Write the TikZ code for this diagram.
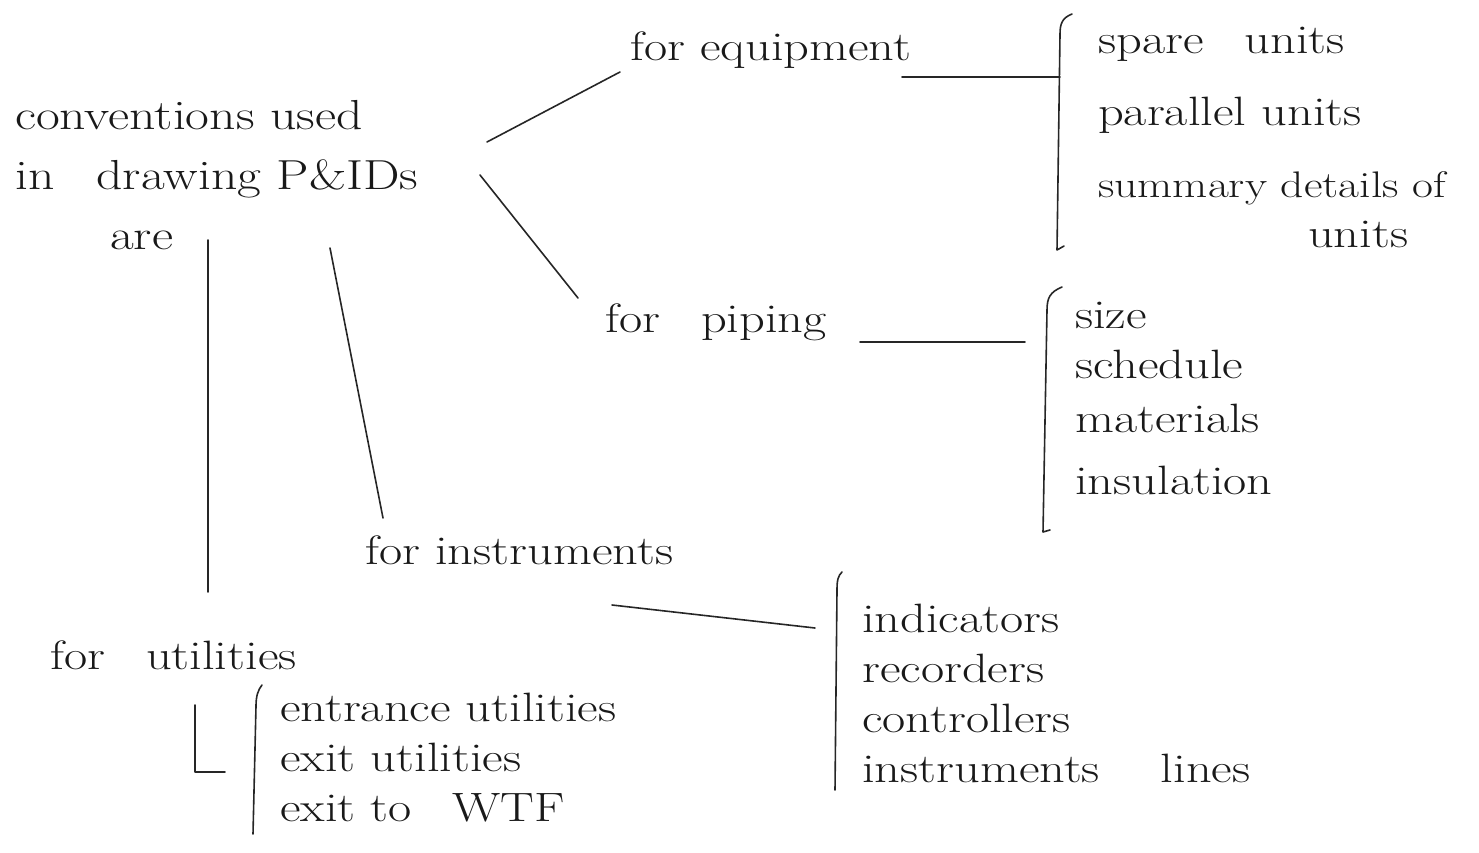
\documentclass[tikz,border=0pt]{standalone}
\usepackage{fontspec}
\setmainfont{Latin Modern Roman}[FakeStretch=1.23]
\begin{document}
\begin{tikzpicture}[x=1pt,y=-1pt,
  pen/.style={line width=1.6pt,draw=black!85,line cap=round,line join=round},
  txt/.style={anchor=west,inner sep=0pt,font=\fontsize{41}{50}\selectfont,text=black!90},
  lst/.style={anchor=north west,inner sep=0pt,align=left,font=\fontsize{41}{50}\selectfont,text=black!90}]
\useasboundingbox (0,0) rectangle (1479,853);
% main
\node[lst,font=\fontsize{42}{60}\selectfont] (main) at (15,100) {conventions used\\in\quad drawing P\&IDs\\\hspace{95pt}are};
% branches
\node[txt] (equip) at (630,50) {for equipment};
\node[txt] (piping) at (605,322) {for\quad piping};
\node[txt] (instr) at (365,550) {for instruments};
\node[txt] (util) at (50,655) {for\quad utilities};
% lists
\node[lst] (eqlist) at (1098,27) {spare\quad units\\[22pt]parallel units\\[22pt]{\fontsize{37}{50}\selectfont summary details of}\\\hspace{210pt}units};
\node[lst] (pilist) at (1075,302) {size\\schedule\\[4pt]materials\\[12pt]insulation};
\node[lst] (inlist) at (862,604) {indicators\\recorders\\controllers\\instruments\quad\hspace{20pt}lines};
\node[lst] (utlist) at (280,693) {entrance utilities\\exit utilities\\exit to\quad WTF};
% connector end points
\coordinate (m1) at (487,142);
\coordinate (e1) at (620,72);
\coordinate (m2) at (480,175);
\coordinate (p1) at (578,298);
\coordinate (m3) at (330,248);
\coordinate (i1) at (383,518);
\coordinate (m4) at (208,240);
\coordinate (u1) at (208,592);
\coordinate (e2) at (902,77);
\coordinate (eb) at (1060,77);
\coordinate (p2) at (860,342);
\coordinate (pb) at (1025,342);
\coordinate (i2) at (612,605);
\coordinate (ib) at (815,628);
\coordinate (u2) at (195,705);
\coordinate (ub) at (225,772);
% connectors
\draw[pen] (m1) -- (e1);
\draw[pen] (m2) -- (p1);
\draw[pen] (m3) -- (i1);
\draw[pen] (m4) -- (u1);
\draw[pen] (e2) -- (eb);
\draw[pen] (p2) -- (pb);
\draw[pen] (i2) -- (ib);
\draw[pen] (u2) -- (195,772) -- (ub);
% brackets
\draw[pen] (1072,14) .. controls (1062,18) and (1060,24) .. (1060,34) -- (1057,250) -- (1064,246);
\draw[pen] (1062,287) .. controls (1050,292) and (1047,298) .. (1047,310) -- (1043,532) -- (1050,530);
\draw[pen] (842,572) .. controls (838,576) and (837,580) .. (837,590) -- (835,790);
\draw[pen] (262,685) .. controls (258,690) and (256,696) .. (256,706) -- (253,834);
\end{tikzpicture}
\end{document}
